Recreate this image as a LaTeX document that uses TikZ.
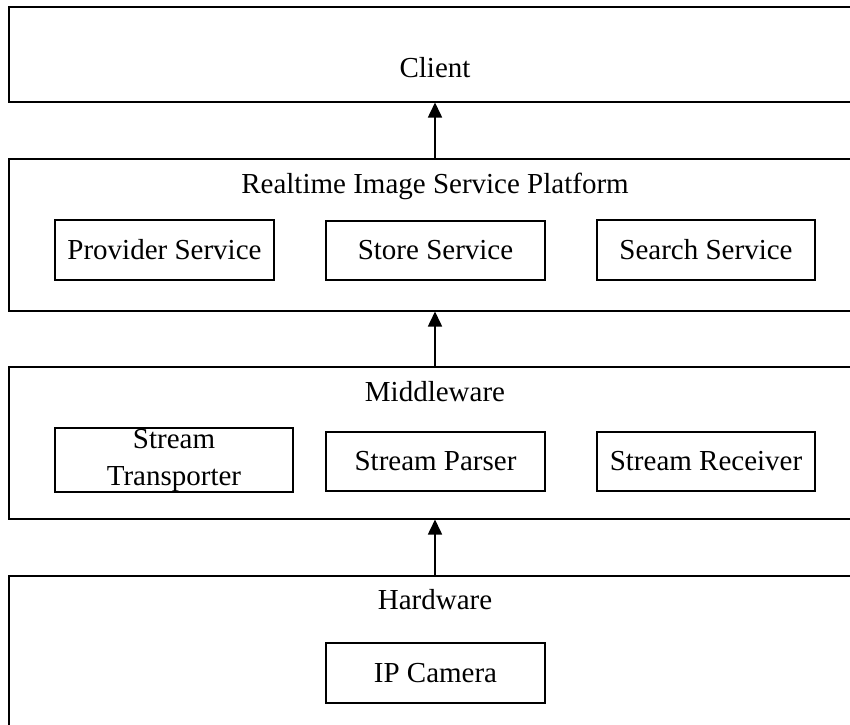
\documentclass[tikz,border=0pt]{standalone}
\usepackage{fontspec}
\setmainfont{Liberation Serif}
\usetikzlibrary{arrows.meta}
\begin{document}
\begin{tikzpicture}[x=1pt,y=-1pt,
  layer/.style={draw=black,line width=1.5pt,rectangle,inner sep=0pt,anchor=north west},
  inbox/.style={draw=black,line width=1.2pt,rectangle,inner sep=0pt,align=center,
    font=\fontsize{29}{36}\selectfont},
  lbl/.style={font=\fontsize{29}{36}\selectfont,inner sep=0pt},
  uparrow/.style={line width=1.6pt,-{Triangle[length=15pt,width=14pt]}}]
\useasboundingbox (0,0) rectangle (850,724);
\clip (0,0) rectangle (850,724);
% layers
\node[layer,minimum width=860pt,minimum height=95pt] (client) at (8,6) {};
\node[layer,minimum width=860pt,minimum height=152pt] (platform) at (8,158) {};
\node[layer,minimum width=860pt,minimum height=152pt] (middleware) at (8,366) {};
\node[layer,minimum width=860pt,minimum height=180pt] (hardware) at (8,575) {};
\coordinate (ax) at (435,0);
% labels
\node[lbl] (clientlbl) at (435,68) {Client};
\node[lbl] (platlbl) at (435,186) {Realtime Image Service Platform};
\node[lbl] (midlbl) at (435,392) {Middleware};
\node[lbl] (hwlbl) at (435,600) {Hardware};
% inner boxes
\node[inbox,minimum width=219pt,minimum height=60pt] (provider) at (164.5,250) {Provider Service};
\node[inbox,minimum width=219pt,minimum height=59pt] (store) at (435.5,250.5) {Store Service};
\node[inbox,minimum width=218pt,minimum height=60pt] (search) at (706,250) {Search Service};
\node[inbox,minimum width=238pt,minimum height=64pt] (transporter) at (174,460) {Stream\\[1pt]Transporter};
\node[inbox,minimum width=219pt,minimum height=59pt] (parser) at (435.5,461.5) {Stream Parser};
\node[inbox,minimum width=218pt,minimum height=59pt] (receiver) at (706,461.5) {Stream Receiver};
\node[inbox,minimum width=219pt,minimum height=60pt] (camera) at (435.5,673) {IP Camera};
% arrows
\draw[uparrow] (platform.north -| ax) -- (client.south -| ax);
\draw[uparrow] (middleware.north -| ax) -- (platform.south -| ax);
\draw[uparrow] (hardware.north -| ax) -- (middleware.south -| ax);
\end{tikzpicture}
\end{document}
